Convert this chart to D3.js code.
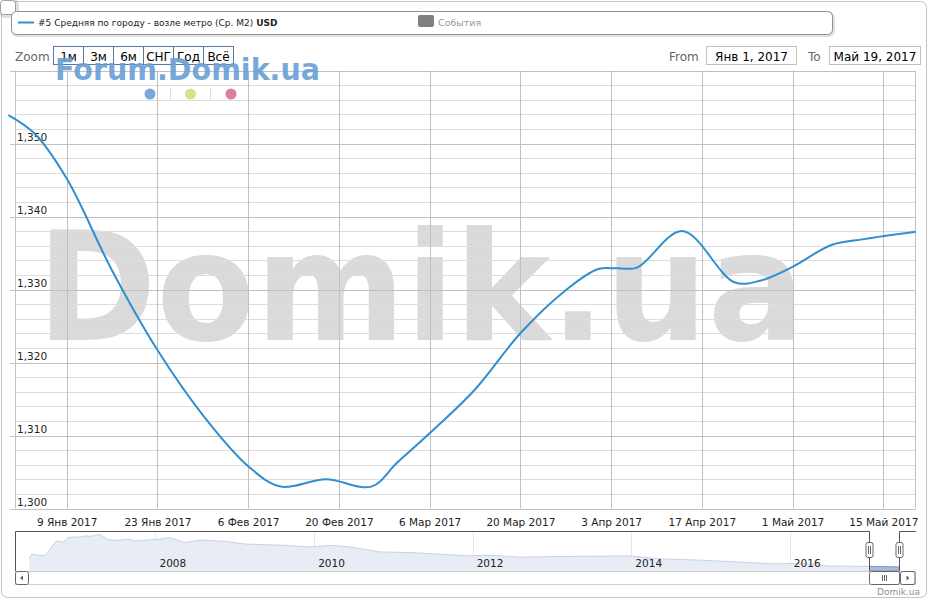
<!DOCTYPE html>
<html><head><meta charset="utf-8">
<script src="https://cdn.jsdelivr.net/npm/d3@7"></script>
<style>
body{margin:0;background:#fff}
svg{display:block;font-family:"DejaVu Sans",sans-serif}
</style>
</head><body>
<svg id="c" width="931" height="600"></svg>
<script>
// ---------- DATA ----------
const priceDates = ["2016-12-31","2017-01-04","2017-01-09","2017-01-16","2017-01-23","2017-01-30","2017-02-06","2017-02-11","2017-02-18","2017-02-25","2017-03-01","2017-03-06","2017-03-13","2017-03-20","2017-03-27","2017-04-01","2017-04-04","2017-04-07","2017-04-14","2017-04-22","2017-04-26","2017-05-01","2017-05-07","2017-05-12","2017-05-20"];
const priceValues = [1353.9,1351.4,1345.2,1332.6,1321.7,1312.8,1305.8,1303.0,1304.0,1303.0,1306.3,1310.3,1316.3,1324.0,1329.9,1332.8,1332.9,1333.0,1338.0,1331.0,1331.2,1333.1,1336.1,1336.9,1337.9];
const xTickDates = ["2017-01-09","2017-01-23","2017-02-06","2017-02-20","2017-03-06","2017-03-20","2017-04-03","2017-04-17","2017-05-01","2017-05-15"];
const yTickValues = [1300,1310,1320,1330,1340,1350];
const yMinorValues = [1302,1304,1306,1308,1312,1314,1316,1318,1322,1324,1326,1328,1332,1334,1336,1338,1342,1344,1346,1348,1352,1354,1356,1358,1360];
const navDates = ["2006-05-30","2006-06-10","2006-08-10","2006-10-01","2006-11-03","2006-11-25","2007-01-19","2007-02-20","2007-03-07","2007-04-01","2007-04-20","2007-05-26","2007-07-13","2007-08-29","2007-09-27","2007-12-05","2008-01-22","2008-03-07","2008-05-15","2008-07-23","2008-11-17","2009-02-17","2009-08-19","2009-12-13","2010-03-15","2010-06-18","2010-10-30","2011-03-18","2011-07-09","2011-12-20","2012-03-21","2012-08-07","2013-02-06","2013-08-11","2013-12-24","2014-05-12","2014-11-14","2015-05-16","2015-10-23","2016-02-14","2016-07-01","2017-01-04","2017-05-19"];
const navValues = [1703,1908,1827,2539,2492,2715,2739,2790,2763,2820,2858,2606,2573,2634,2539,2606,2634,2701,2463,2587,2525,2397,2335,2254,2335,2254,2017,1988,1922,1827,1860,1765,1798,1812,1827,1684,1622,1527,1447,1466,1337,1323,1290];
const navYearTicks = ["2008-01-01","2010-01-01","2012-01-01","2014-01-01","2016-01-01"];
const zoomButtons = ["1м","3м","6м","СНГ","Год","Всё"];
const rangeFrom = "2017-01-01", rangeTo = "2017-05-19";
const seriesName = "#5 Средняя по городу - возле метро (Ср. М2) ";
const seriesUnit = "USD";
const eventsLabel = "События";
const dotColors = ["#7aa8d8","#d9df8a","#dd7f99"];

// ---------- SETUP ----------
const parse = d3.timeParse("%Y-%m-%d");
const ru = d3.timeFormatLocale({dateTime:"%A, %e %B %Y г. %X",date:"%d.%m.%Y",time:"%H:%M:%S",periods:["AM","PM"],
  days:["воскресенье","понедельник","вторник","среда","четверг","пятница","суббота"],
  shortDays:["вс","пн","вт","ср","чт","пт","сб"],
  months:["января","февраля","марта","апреля","мая","июня","июля","августа","сентября","октября","ноября","декабря"],
  shortMonths:["Янв","Фев","Мар","Апр","Май","Июн","Июл","Авг","Сен","Окт","Ноя","Дек"]});
const fmtTick = ru.format("%-d %b %Y");
const fmtRange = ru.format("%b %-d, %Y");

const svg = d3.select("#c");
const plot = {l:15, r:916, t:70.5, b:508.5};

const x = d3.scaleTime().domain([parse("2017-01-01"), parse("2017-05-20")]).range([14.85, 915.7]);
const y = d3.scaleLinear().domain([1300,1360]).range([plot.b, plot.t]);

// outer frame
svg.append("rect").attr("x",1.5).attr("y",1.5).attr("width",925).attr("height",596).attr("rx",6)
  .attr("fill","#fff").attr("stroke","#c4c4c4");

// watermark
svg.append("text").attr("x",37).attr("y",340).attr("font-size",151).attr("font-weight","bold")
  .attr("textLength",768).attr("lengthAdjust","spacingAndGlyphs")
  .attr("fill","#dadada").text("Domik.ua");

// grid
const g = svg.append("g");
g.selectAll(".mn").data(yMinorValues).join("line")
  .attr("x1",plot.l).attr("x2",plot.r).attr("y1",d=>Math.round(y(d))+0.5).attr("y2",d=>Math.round(y(d))+0.5)
  .attr("stroke","#dedede");
g.selectAll(".vx").data(xTickDates.map(parse)).join("line")
  .attr("x1",d=>Math.round(x(d))+0.5).attr("x2",d=>Math.round(x(d))+0.5).attr("y1",plot.t).attr("y2",plot.b)
  .attr("stroke","#c0c0c0");
g.selectAll(".mj").data(yTickValues.concat([1360])).join("line")
  .attr("x1",10).attr("x2",plot.r).attr("y1",d=>Math.round(y(d))+0.5).attr("y2",d=>Math.round(y(d))+0.5)
  .attr("stroke","#c0c0c0");
g.append("line").attr("x1",15.5).attr("x2",15.5).attr("y1",plot.t).attr("y2",plot.b).attr("stroke","#c0c0c0");
g.append("line").attr("x1",915.5).attr("x2",915.5).attr("y1",plot.t).attr("y2",plot.b).attr("stroke","#c0c0c0");

// y labels
g.selectAll(".yl").data(yTickValues).join("text")
  .attr("x",17).attr("y",d=>y(d)-3).attr("font-size",10.5).attr("fill","#222")
  .text(d=>d3.format(",")(d));

// x axis labels
const xAxis = d3.axisBottom(x).tickValues(xTickDates.map(parse)).tickFormat(fmtTick).tickSize(0).tickPadding(10);
const xa = svg.append("g").attr("transform",`translate(0,${plot.b})`).call(xAxis);
xa.select(".domain").remove();
xa.selectAll("text").attr("font-size",10.5).attr("fill","#222").attr("font-family","DejaVu Sans");

// main line
const pts = priceDates.map((d,i)=>[parse(d),priceValues[i]]);
svg.append("path").datum(pts)
  .attr("d",d3.line().x(d=>x(d[0])).y(d=>y(d[1])).curve(d3.curveCatmullRom.alpha(0.5)))
  .attr("fill","none").attr("stroke","#2f8fd0").attr("stroke-width",2).attr("stroke-linejoin","round");

// top-left small box
svg.append("rect").attr("x",1.5).attr("y",1.5).attr("width",16).attr("height",15).attr("rx",3)
  .attr("fill","none").attr("stroke","rgba(0,0,0,0.12)").attr("stroke-width",3);
svg.append("rect").attr("x",0.5).attr("y",0.5).attr("width",15).attr("height",14).attr("rx",3)
  .attr("fill","#fff").attr("stroke","#a0a0a0");

// legend box
svg.append("rect").attr("x",12.5).attr("y",12.5).attr("width",821).attr("height",23).attr("rx",5)
  .attr("fill","none").attr("stroke","rgba(0,0,0,0.12)").attr("stroke-width",3);
svg.append("rect").attr("x",11.5).attr("y",11.5).attr("width",821).attr("height",23).attr("rx",5)
  .attr("fill","#fff").attr("stroke","#909090");
svg.append("line").attr("x1",18).attr("x2",34).attr("y1",22.5).attr("y2",22.5).attr("stroke","#2f8fd0").attr("stroke-width",2);
const lt = svg.append("text").attr("x",38).attr("y",26).attr("font-size",9).attr("fill","#222").attr("xml:space","preserve");
lt.append("tspan").text(seriesName);
lt.append("tspan").attr("font-weight","bold").text(seriesUnit);
svg.append("rect").attr("x",418).attr("y",15).attr("width",16).attr("height",12).attr("rx",2).attr("fill","#808080");
svg.append("text").attr("x",438).attr("y",26).attr("font-size",9.5).attr("fill","#999").text(eventsLabel);

// zoom buttons
svg.append("text").attr("x",15).attr("y",61).attr("font-size",12).attr("fill","#666").text("Zoom");
const bw = 30, bx0 = 53.5;
const btn = svg.selectAll(".btn").data(zoomButtons).join("g").attr("transform",(d,i)=>`translate(${bx0+i*bw},46.5)`);
btn.append("rect").attr("width",bw).attr("height",18).attr("fill","none").attr("stroke","#5a77a0");
btn.append("text").attr("x",bw/2).attr("y",14.5).attr("text-anchor","middle").attr("font-size",12).attr("fill","#000").text(d=>d);

// range inputs
svg.append("text").attr("x",669).attr("y",61).attr("font-size",12).attr("fill","#666").text("From");
svg.append("rect").attr("x",706.5).attr("y",46.5).attr("width",90).attr("height",18).attr("fill","#fff").attr("stroke","#c0c0c0");
svg.append("text").attr("x",751.5).attr("y",61).attr("text-anchor","middle").attr("font-size",12).attr("fill","#000").text(fmtRange(parse(rangeFrom)));
svg.append("text").attr("x",808).attr("y",61).attr("font-size",12).attr("fill","#666").text("To");
svg.append("rect").attr("x",829.5).attr("y",46.5).attr("width",91).attr("height",18).attr("fill","#fff").attr("stroke","#c0c0c0");
svg.append("text").attr("x",875).attr("y",61).attr("text-anchor","middle").attr("font-size",12).attr("fill","#000").text(fmtRange(parse(rangeTo)));

// Forum watermark + dots
svg.append("text").attr("x",55).attr("y",80).attr("font-size",30).attr("font-weight","bold")
  .attr("textLength",265).attr("lengthAdjust","spacingAndGlyphs")
  .attr("fill","#6a9fd6").attr("fill-opacity",0.92).text("Forum.Domik.ua");
svg.selectAll(".dot").data(dotColors).join("circle")
  .attr("cx",(d,i)=>150+i*40.5).attr("cy",94).attr("r",5.5).attr("fill",d=>d);
[170.5,210.5].forEach(sx=>svg.append("line").attr("x1",sx).attr("x2",sx).attr("y1",88).attr("y2",100).attr("stroke","#ddd"));

// ---------- NAVIGATOR ----------
const nav = {l:15, r:916, t:531.5, b:571};
const nx = d3.scaleTime().domain([parse("2006-03-25"), parse("2017-08-04")]).range([nav.l, nav.r]);
const ny = d3.scaleLinear().domain([1100,3000]).range([nav.b, nav.t]);
svg.selectAll(".ng").data(navYearTicks.map(parse)).join("line")
  .attr("x1",d=>Math.round(nx(d))+0.5).attr("x2",d=>Math.round(nx(d))+0.5).attr("y1",nav.t).attr("y2",nav.b)
  .attr("stroke","#e6e6e6");
const npts = navDates.map((d,i)=>[parse(d),navValues[i]]);
const area = d3.area().x(d=>nx(d[0])).y0(nav.b).y1(d=>ny(d[1]));
svg.append("path").datum(npts).attr("d",area).attr("fill","#e8ecf5").attr("stroke","none");
svg.append("path").datum(npts).attr("d",d3.line().x(d=>nx(d[0])).y(d=>ny(d[1]))).attr("fill","none").attr("stroke","#c8d2e6");
const sx0 = nx(parse(rangeFrom)), sx1 = nx(parse(rangeTo));
svg.append("clipPath").attr("id","sel").append("rect").attr("x",sx0).attr("y",nav.t).attr("width",sx1-sx0).attr("height",nav.b-nav.t);
svg.append("path").datum(npts).attr("d",area).attr("clip-path","url(#sel)").attr("fill","#a9bbd9").attr("stroke","#7f98c2");
svg.selectAll(".ny").data(navYearTicks.map(parse)).join("text")
  .attr("x",d=>nx(d)+4).attr("y",567).attr("font-size",10.5).attr("fill","#222").text(d3.timeFormat("%Y"));
// outline
const hx0 = Math.round(sx0)+0.5, hx1 = Math.round(sx1)+0.5;
svg.append("path").attr("d",`M${nav.l+0.5},${nav.b}V${nav.t}H${hx0}V${nav.b}M${hx1},${nav.b}V${nav.t}H${nav.r}`)
  .attr("fill","none").attr("stroke","#555");
// scrollbar
svg.append("rect").attr("x",15.5).attr("y",571.5).attr("width",900).attr("height",13).attr("fill","#fff").attr("stroke","#cfcfcf");
svg.append("rect").attr("x",15.5).attr("y",571.5).attr("width",13).attr("height",13).attr("rx",2).attr("fill","#fff").attr("stroke","#666");
svg.append("path").attr("d","M20,578L23,575.5V580.5Z").attr("fill","#666");
svg.append("rect").attr("x",hx0).attr("y",571.5).attr("width",hx1-hx0).attr("height",13).attr("rx",2).attr("fill","#fff").attr("stroke","#666");
[-2,0,2].forEach(o=>svg.append("line").attr("x1",(hx0+hx1)/2+o).attr("x2",(hx0+hx1)/2+o).attr("y1",575).attr("y2",581).attr("stroke","#666"));
svg.append("rect").attr("x",hx1+1).attr("y",571.5).attr("width",14.5).attr("height",13).attr("rx",2).attr("fill","#fff").attr("stroke","#666");
svg.append("path").attr("d",`M${hx1+10},578L${hx1+7},575.5V580.5Z`).attr("fill","#666");
// handles
[hx0,hx1].forEach(hx=>{
  svg.append("rect").attr("x",hx-3.5).attr("y",542.5).attr("width",7).attr("height",15).attr("rx",2).attr("fill","#fff").attr("stroke","#666");
  svg.append("line").attr("x1",hx-1).attr("x2",hx-1).attr("y1",546).attr("y2",554).attr("stroke","#666");
  svg.append("line").attr("x1",hx+1).attr("x2",hx+1).attr("y1",546).attr("y2",554).attr("stroke","#666");
});
// credits
svg.append("text").attr("x",920).attr("y",595).attr("text-anchor","end").attr("font-size",9).attr("fill","#909090").text("Domik.ua");
</script>
</body></html>
